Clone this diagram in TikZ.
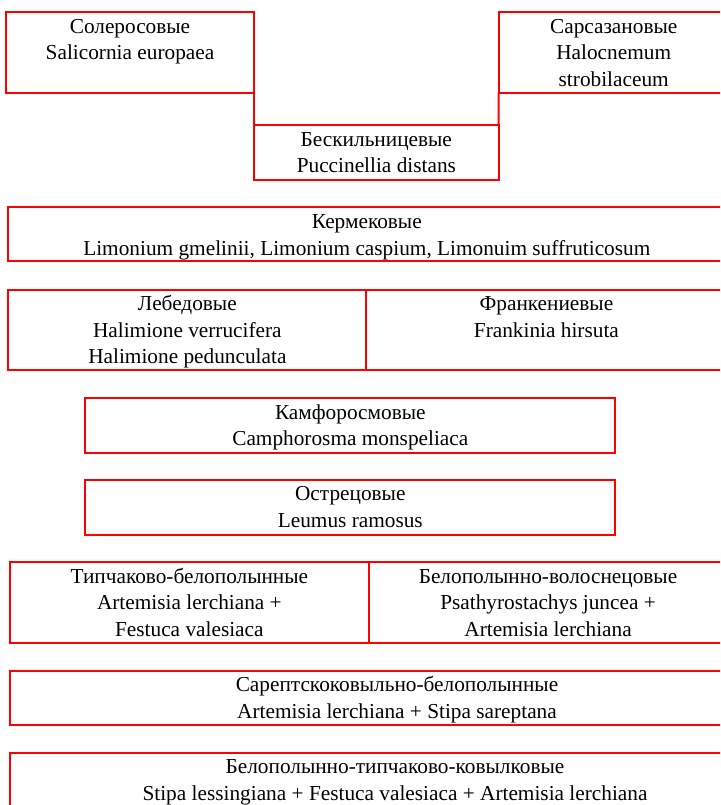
\documentclass[tikz,border=0pt]{standalone}
\usepackage{fontspec}
\setmainfont{Liberation Serif}
\usetikzlibrary{positioning}
\definecolor{cred}{HTML}{FF0000}
\tikzset{
  every picture/.style={line width=2pt},
  cell/.style={draw=cred, anchor=north west, inner sep=0pt, outer sep=0pt},
  lbl/.style={align=center, inner sep=0pt, font=\fontsize{21.3}{26.5}\selectfont},
}

\begin{document}
\begin{tikzpicture}[x=1pt, y=-1pt]
  \path[use as bounding box, clip] (0,0) rectangle (720,805);
  \newcommand{\veg}[6]{% name, left, top, width, height, text
    \node[cell, minimum width=#4pt, minimum height=#5pt] (#1) at (#2,#3) {};
    \node[lbl, below=2.2pt of #1.north] (#1-t) {\rule{0pt}{18pt}#6};
  }
  % top row: salt marsh communities
  \veg{sal}{6}{12}{248}{80.6}{Солеросовые\\Salicornia europaea}
  \veg{hal}{498.7}{12}{230}{80.6}{Сарсазановые\\Halocnemum\\strobilaceum}
  \veg{puc}{254}{125.3}{244.7}{54.7}{Бескильницевые\\Puccinellia distans}
  \draw[cred] (sal.south east) -- (puc.north west);
  \draw[cred] (hal.south west) -- (puc.north east);
  \veg{kerm}{8.3}{207.3}{717}{54}{Кермековые\\Limonium gmelinii, Limonium caspium, Limonuim suffruticosum}
  \veg{leb}{8.3}{289.7}{358.1}{80.3}{Лебедовые\\Halimione verrucifera\\Halimione pedunculata}
  \veg{fra}{366.4}{289.7}{360}{80.3}{Франкениевые\\Frankinia hirsuta}
  \veg{kamf}{85.4}{398}{529.8}{54.7}{Камфоросмовые\\Camphorosma monspeliaca}
  \veg{ostr}{85.4}{479.7}{529.8}{55}{Острецовые\\Leumus ramosus}
  % steppe communities
  \veg{tip}{10}{562}{358.7}{80.7}{Типчаково-белополынные\\Artemisia lerchiana +\\Festuca valesiaca}
  \veg{vol}{368.7}{562}{358.7}{80.7}{Белополынно-волоснецовые\\Psathyrostachys juncea +\\Artemisia lerchiana}
  \veg{sar}{10}{670.7}{774}{54.7}{Сарептскоковыльно-белополынные\\Artemisia lerchiana + Stipa sareptana}
  \veg{stip}{10}{752.7}{770}{55}{Белополынно-типчаково-ковылковые\\Stipa lessingiana + Festuca valesiaca + Artemisia lerchiana}
\end{tikzpicture}
\end{document}
